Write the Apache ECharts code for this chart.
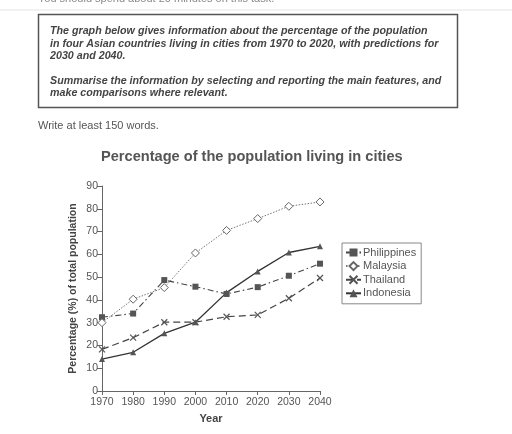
<!DOCTYPE html>
<html><head><meta charset="utf-8">
<script src="https://cdn.jsdelivr.net/npm/echarts@6/dist/echarts.min.js"></script>
<style>html,body{margin:0;padding:0;background:#fff}#c{width:512px;height:434px}</style>
</head><body><div id="c"></div>
<script>
const years = ['1970','1980','1990','2000','2010','2020','2030','2040'];
const philippines = [32.4, 34, 48.7, 45.8, 42.6, 45.6, 50.6, 55.9];
const malaysia = [30, 40.3, 45.4, 60.6, 70.5, 75.7, 81.1, 83];
const thailand = [18.3, 23.4, 30.2, 30.2, 32.6, 33.4, 40.7, 49.6];
const indonesia = [14, 17, 25.3, 30.2, 43.2, 52.5, 60.8, 63.5];
const yTicks = {min: 0, max: 90, interval: 10};

const chart = echarts.init(document.getElementById('c'), null, {renderer: 'canvas'});
const F = 'Liberation Sans, Arial, sans-serif';
const taskText = 'The graph below gives information about the percentage of the population\nin four Asian countries living in cities from 1970 to 2020, with predictions for\n2030 and 2040.\n\nSummarise the information by selecting and reporting the main features, and\nmake comparisons where relevant.';
const xPath = 'path://M0,0L10,10M10,0L0,10';

chart.setOption({
  backgroundColor: '#fff',
  animation: false,
  title: {
    text: 'Percentage of the population living in cities',
    left: 96, top: 144,
    textStyle: {fontFamily: F, fontSize: 14.6, fontWeight: 'bold', color: '#555'}
  },
  graphic: [
    {type: 'text', left: 38, top: -7, style: {text: 'You should spend about 20 minutes on this task.', font: '11px ' + F, fill: '#888'}},
    {type: 'line', shape: {x1: 0, y1: 10, x2: 512, y2: 10}, style: {stroke: '#e4e4e4', lineWidth: 1}},
    {type: 'rect', shape: {x: 38.5, y: 14.5, width: 419, height: 93}, style: {fill: '#fff', stroke: '#555', lineWidth: 1.5}},
    {type: 'text', left: 50, top: 25, style: {text: taskText, font: 'italic bold 10.7px ' + F, fill: '#444', lineHeight: 12.4}},
    {type: 'text', left: 38, top: 120, style: {text: 'Write at least 150 words.', font: '11px ' + F, fill: '#555'}}
  ],
  legend: {
    orient: 'vertical', left: 342, top: 243,
    borderColor: '#888', borderWidth: 1, padding: [4, 5, 5, 3],
    itemGap: 2.6, itemWidth: 15, itemHeight: 10,
    textStyle: {fontFamily: F, fontSize: 11, color: '#555', padding: [0, 0, 0, -3]},
    data: ['Philippines', 'Malaysia', 'Thailand', 'Indonesia']
  },
  grid: {left: 102, right: 192, top: 186, bottom: 43},
  xAxis: {
    type: 'category', data: years, boundaryGap: false,
    name: 'Year', nameLocation: 'middle', nameGap: 22,
    nameTextStyle: {fontFamily: F, fontSize: 11, fontWeight: 'bold', color: '#444'},
    axisLine: {lineStyle: {color: '#666', width: 1}},
    axisTick: {show: true, length: 4, interval: 0, lineStyle: {color: '#666'}},
    axisLabel: {fontFamily: F, fontSize: 10.5, color: '#555', margin: 6, interval: 0}
  },
  yAxis: {
    type: 'value', min: yTicks.min, max: yTicks.max, interval: yTicks.interval,
    name: 'Percentage (%) of total population', nameLocation: 'middle', nameGap: 23,
    nameTextStyle: {fontFamily: F, fontSize: 10.5, fontWeight: 'bold', color: '#444'},
    axisLine: {show: true, lineStyle: {color: '#666', width: 1}},
    axisTick: {show: true, length: 5, lineStyle: {color: '#666'}},
    axisLabel: {fontFamily: F, fontSize: 10.5, color: '#555', margin: 4},
    splitLine: {show: false}
  },
  series: [
    {name: 'Philippines', type: 'line', data: philippines, symbol: 'rect', symbolSize: 6,
      itemStyle: {color: '#555'}, lineStyle: {color: '#444', width: 1.1, type: [6, 3, 1.5, 3]}},
    {name: 'Malaysia', type: 'line', data: malaysia, symbol: 'diamond', symbolSize: 8,
      itemStyle: {color: '#fff', borderColor: '#666', borderWidth: 1}, lineStyle: {color: '#777', width: 1, type: [1.5, 1.5]}},
    {name: 'Thailand', type: 'line', data: thailand, symbol: xPath, symbolSize: 6,
      itemStyle: {color: '#555', borderColor: '#555', borderWidth: 1.2}, lineStyle: {color: '#444', width: 1.2, type: [7, 4]}},
    {name: 'Indonesia', type: 'line', data: indonesia, symbol: 'triangle', symbolSize: 6,
      itemStyle: {color: '#555'}, lineStyle: {color: '#333', width: 1.3, type: 'solid'}}
  ]
});
</script></body></html>
